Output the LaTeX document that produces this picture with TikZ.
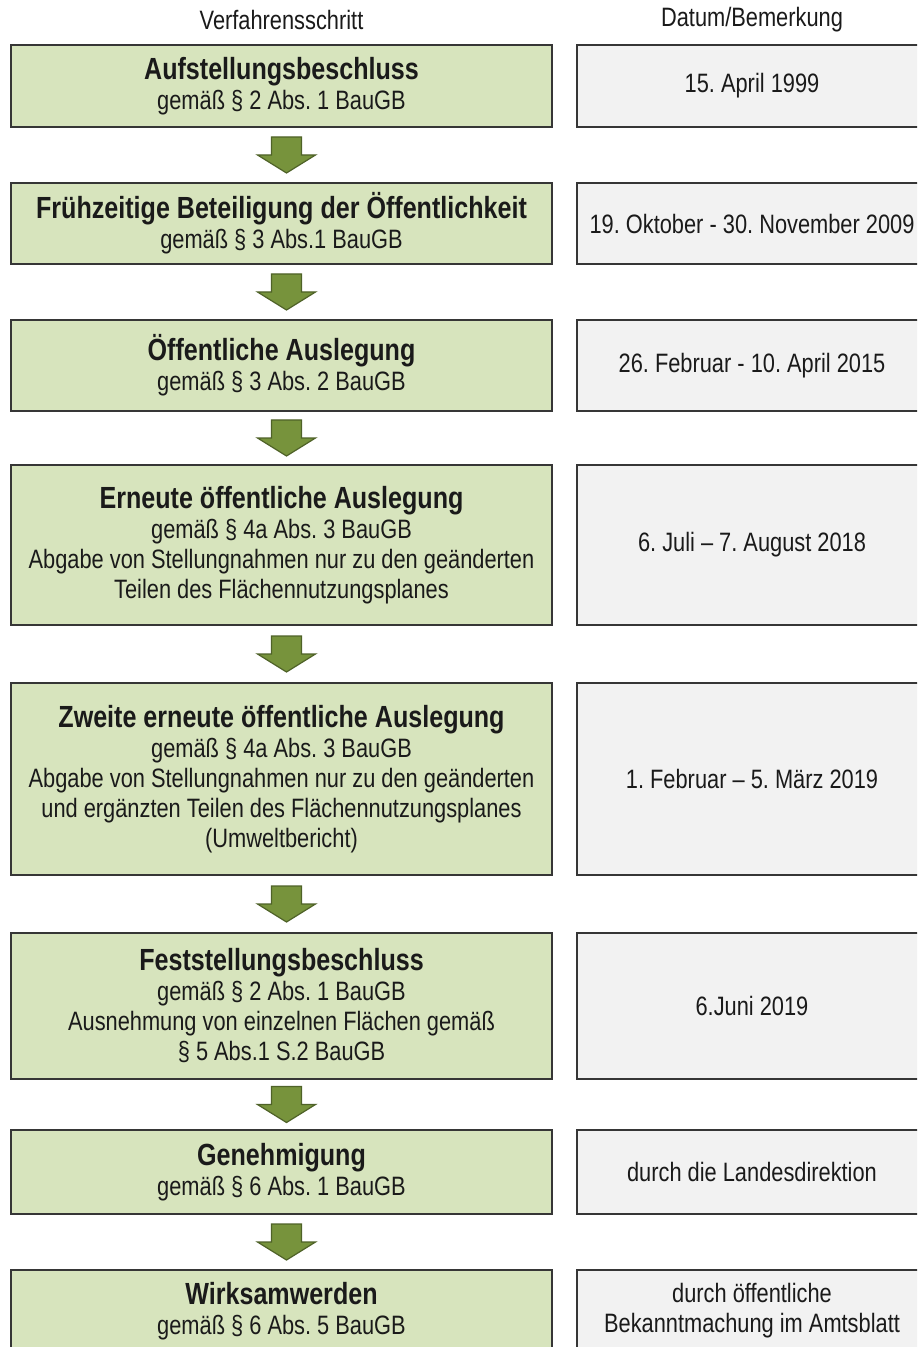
\documentclass[tikz,border=0pt]{standalone}
\usepackage{fontspec}
\setmainfont[FakeStretch=0.82]{Liberation Sans}
\usepackage{tikz}
\usetikzlibrary{calc}
\frenchspacing

\definecolor{gruen}{HTML}{D7E4BD}
\definecolor{grau}{HTML}{F2F2F2}
\definecolor{rahmen}{HTML}{363636}
\definecolor{schrift}{HTML}{1A1A1A}
\definecolor{pfeilgruen}{HTML}{77933C}
\definecolor{pfeilrand}{HTML}{4F6228}

\newcommand{\titel}[1]{{\fontsize{15.3}{18}\selectfont\bfseries #1}}

\tikzset{
	kasten/.style={draw=rahmen, line width=1.1pt, inner sep=0pt, align=center, text=schrift, font=\fontsize{13.3}{15}\selectfont},
	schritt/.style={kasten, fill=gruen, minimum width=270.5pt},
	datum/.style={kasten, fill=grau, minimum width=175pt},
	kopf/.style={text=schrift, font=\fontsize{13.3}{15}\selectfont},
	pfeil/.style={fill=pfeilgruen, draw=pfeilrand, line width=0.6pt, line join=miter}
}

\begin{document}
\begin{tikzpicture}[x=0.5pt,y=-0.5pt]
		\useasboundingbox (0,0) rectangle (917,1347);
		\fill[white] (0,0) rectangle (917,1347);
		\clip (0,0) rectangle (917,1347);
		
		%ueberschriften
		\node[kopf] (h1) at (281.5,20) {Verfahrensschritt};
		\node[kopf] (h2) at (752,20) {Datum/Bemerkung};
		
		%linke spalte
		\node[schritt, minimum height=41pt] (s1) at (281.5,86) {\titel{Aufstellungsbeschluss}\\ gemäß § 2 Abs. 1 BauGB};
		\node[schritt, minimum height=40.5pt] (s2) at (281.5,223.5) {\titel{Frühzeitige Beteiligung der Öffentlichkeit}\\ gemäß § 3 Abs.1 BauGB};
		\node[schritt, minimum height=45.5pt] (s3) at (281.5,365.5) {\titel{Öffentliche Auslegung}\\ gemäß § 3 Abs. 2 BauGB};
		\node[schritt, minimum height=80pt] (s4) at (281.5,545) {\titel{Erneute öffentliche Auslegung}\\ gemäß § 4a Abs. 3 BauGB\\ Abgabe von Stellungnahmen nur zu den geänderten\\ Teilen des Flächennutzungsplanes};
		\node[schritt, minimum height=96pt] (s5) at (281.5,779) {\titel{Zweite erneute öffentliche Auslegung}\\ gemäß § 4a Abs. 3 BauGB\\ Abgabe von Stellungnahmen nur zu den geänderten\\ und ergänzten Teilen des Flächennutzungsplanes\\ (Umweltbericht)};
		\node[schritt, minimum height=73pt] (s6) at (281.5,1006) {\titel{Feststellungsbeschluss}\\ gemäß § 2 Abs. 1 BauGB\\ Ausnehmung von einzelnen Flächen gemäß\\ § 5 Abs.1 S.2 BauGB};
		\node[schritt, minimum height=42pt] (s7) at (281.5,1172) {\titel{Genehmigung}\\ gemäß § 6 Abs. 1 BauGB};
		\node[schritt, minimum height=41pt] (s8) at (281.5,1311) {\titel{Wirksamwerden}\\ gemäß § 6 Abs. 5 BauGB};
		
		%rechte spalte
		\node[datum, minimum height=41pt] (d1) at (752,86) {15. April 1999};
		\node[datum, minimum height=40.5pt] (d2) at (752,223.5) {19. Oktober - 30. November 2009};
		\node[datum, minimum height=45.5pt] (d3) at (752,365.5) {26. Februar - 10. April 2015};
		\node[datum, minimum height=80pt] (d4) at (752,545) {6. Juli – 7. August 2018};
		\node[datum, minimum height=96pt] (d5) at (752,779) {1. Februar – 5. März 2019};
		\node[datum, minimum height=73pt] (d6) at (752,1006) {6.Juni 2019};
		\node[datum, minimum height=42pt] (d7) at (752,1172) {durch die Landesdirektion};
		\node[datum, minimum height=41pt] (d8) at (752,1311) {durch öffentliche\\ Bekanntmachung im Amtsblatt};
		
		%pfeile
		\foreach \a/\b in {s1/s2,s2/s3,s3/s4,s4/s5,s5/s6,s6/s7,s7/s8}{
			\coordinate (p-\a) at ($(\a.south)!0.5!(\b.north)+(5,0)$);
			\draw[pfeil, shift={(p-\a)}] (-15,-18) -- (15,-18) -- (15,0) -- (29,0) -- (0,18) -- (-29,0) -- (-15,0) -- cycle;
		}
		
\end{tikzpicture}
\end{document}
